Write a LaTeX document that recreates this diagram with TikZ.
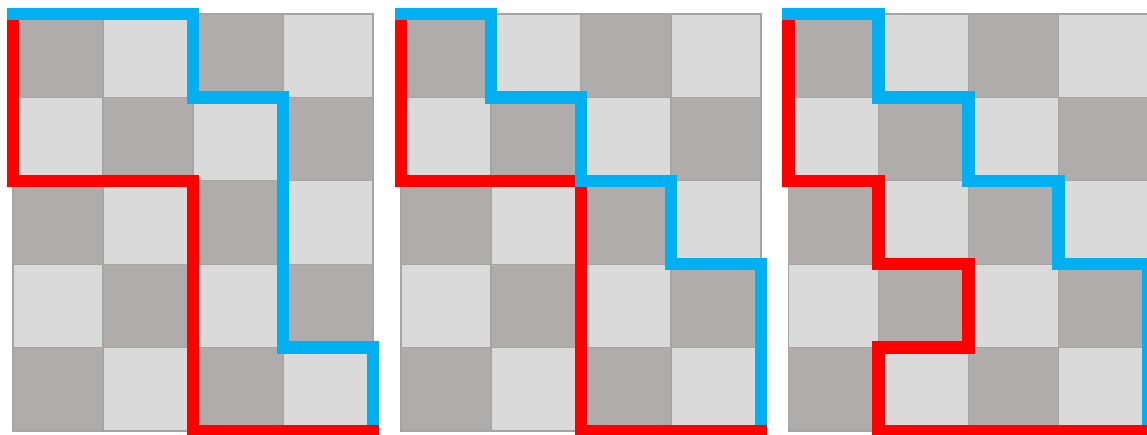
\documentclass[tikz,border=0pt]{standalone}
\usepackage{xcolor}
\usepackage{tikz}

\definecolor{cellDark}{RGB}{175,172,171}
\definecolor{cellLight}{RGB}{218,218,218}
\definecolor{cellEdge}{RGB}{165,165,165}
\definecolor{pathBlue}{RGB}{0,176,240}
\definecolor{pathRed}{RGB}{255,0,0}

% 4x5 checkerboard in board units
\newcommand{\checkcells}{%
  \foreach \i in {0,...,3}
    \foreach \j in {0,...,4} {
      \ifodd\numexpr\i+\j\relax \def\cellcol{cellLight}\else \def\cellcol{cellDark}\fi
      \filldraw[cell, fill=\cellcol] (\i,\j) rectangle ++(1,1);
    }%
}

\begin{document}
\begin{tikzpicture}[
    x=1pt, y=1pt,
    board/.style={x=90pt, y=-83.4pt},
    cell/.style={draw=cellEdge, line width=1.2pt},
    bluepath/.style={draw=pathBlue, line width=12.5pt, line cap=rect, line join=miter},
    redpath/.style={draw=pathRed, line width=12.5pt, line cap=rect, line join=miter}
]
\useasboundingbox (0,0) rectangle (1147,-434);

% left board
\begin{scope}[shift={(13,-14)}, board]
  \checkcells
  \draw[redpath] (0,0) -- (0,2) -- (2,2) -- (2,5) -- (4,5);
  \draw[bluepath] (0,0) -- (2,0) -- (2,1) -- (3,1) -- (3,4) -- (4,4) -- (4,5);
  \draw[redpath] (2,5) -- (4,5);
\end{scope}

% middle board
\begin{scope}[shift={(401,-14)}, board]
  \checkcells
  \draw[redpath] (0,0) -- (0,2) -- (2,2) -- (2,5) -- (4,5);
  \draw[bluepath] (0,0) -- (1,0) -- (1,1) -- (2,1) -- (2,2) -- (3,2) -- (3,3) -- (4,3) -- (4,5);
  \draw[redpath] (2,5) -- (4,5);
\end{scope}

% right board
\begin{scope}[shift={(788.5,-14)}, board]
  \checkcells
  \draw[redpath] (0,0) -- (0,2) -- (1,2) -- (1,3) -- (2,3) -- (2,4) -- (1,4) -- (1,5) -- (4,5);
  \draw[bluepath] (0,0) -- (1,0) -- (1,1) -- (2,1) -- (2,2) -- (3,2) -- (3,3) -- (4,3) -- (4,5);
  \draw[redpath] (1,5) -- (4,5);
\end{scope}
\end{tikzpicture}
\end{document}
